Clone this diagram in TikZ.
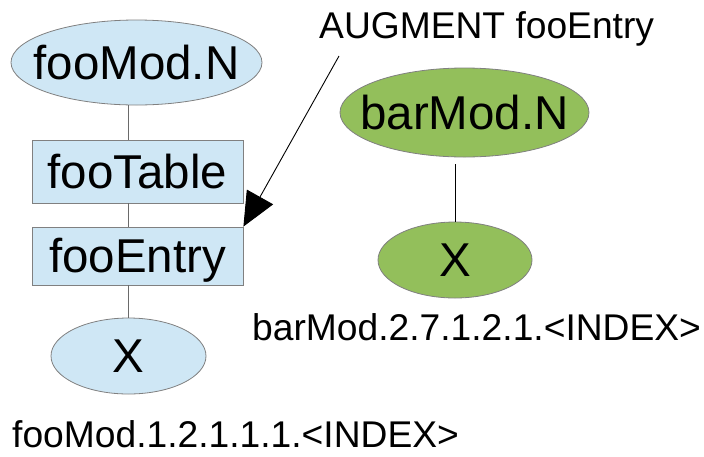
\documentclass[tikz,border=0pt]{standalone}
\usepackage{fontspec}
\setmainfont{Liberation Sans}
\usetikzlibrary{shapes.geometric,arrows.meta}
\definecolor{lblue}{HTML}{CFE7F5}
\definecolor{lgreen}{HTML}{93BF5B}
\definecolor{edgegray}{HTML}{808080}
\definecolor{linegray}{HTML}{6A6A6A}
\newcommand{\bigtxt}{\fontsize{47.5}{50}\selectfont}
\newcommand{\smalltxt}{\fontsize{37.2}{40}\selectfont}
\tikzset{
  shapebase/.style={draw=edgegray, line width=0.8pt, inner sep=0pt},
  blueell/.style={shapebase, ellipse, fill=lblue},
  greenell/.style={shapebase, ellipse, fill=lgreen},
  bluebox/.style={shapebase, rectangle, fill=lblue, minimum width=211pt},
  inlabel/.style={font=\bigtxt, inner sep=0pt, text height=33pt, text depth=0pt},
  plaintxt/.style={font=\smalltxt, inner sep=0pt, anchor=base west},
  conn/.style={draw=linegray, line width=0.8pt},
}
\begin{document}
\begin{tikzpicture}[x=1pt,y=-1pt]
\useasboundingbox (0,0) rectangle (704,456);
% left tree
\node[blueell, minimum width=251pt, minimum height=85pt,
      label={[inlabel]center:fooMod.N}] (fooMod) at (136.5,62.5) {};
\node[bluebox, minimum height=63pt, label={[inlabel]center:fooTable}] (fooTable) at (137.5,171.5) {};
\node[bluebox, minimum height=58pt, label={[inlabel]center:fooEntry}] (fooEntry) at (137.5,256) {};
\node[blueell, minimum width=155pt, minimum height=76pt,
      label={[inlabel]center:X}] (fooX) at (128.5,356) {};
\draw[conn] (fooMod.south -| fooX.center) -- (fooTable.north -| fooX.center);
\draw[conn] (fooTable.south -| fooX.center) -- (fooEntry.north -| fooX.center);
\draw[conn] (fooEntry.south -| fooX.center) -- (fooX.north);
\node[plaintxt] (fooIdx) at (12,447) {fooMod.1.2.1.1.1.<INDEX>};
% right tree
\node[greenell, minimum width=249pt, minimum height=89pt,
      label={[inlabel]center:barMod.N}] (barMod) at (464.5,112.5) {};
\node[greenell, minimum width=154pt, minimum height=76pt,
      label={[inlabel]center:X}] (barX) at (455,260) {};
\draw[black, line width=0.8pt] (barMod.south -| barX.center) ++(0,7) coordinate (bm) (bm) -- (barX.north);
\node[plaintxt] (barIdx) at (252,340) {barMod.2.7.1.2.1.<INDEX>};
% annotation
\node[plaintxt] (aug) at (319,38) {AUGMENT fooEntry};
\coordinate (augstart) at (339,56);
\draw[black, line width=0.9pt, -{Triangle[length=34pt,width=30pt]}] (augstart) -- (fooEntry.north east);
\end{tikzpicture}
\end{document}
